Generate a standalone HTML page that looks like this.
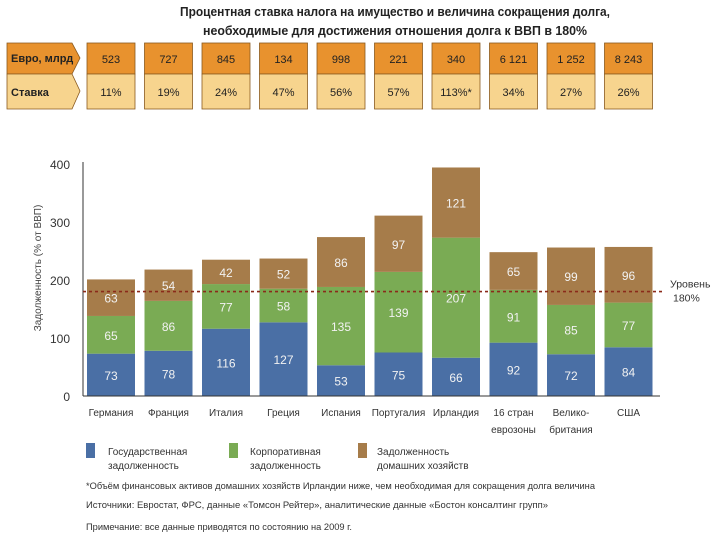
<!DOCTYPE html>
<html><head><meta charset="utf-8">
<style>
body{margin:0;background:#fff;width:720px;height:540px;overflow:hidden;font-family:"Liberation Sans","Noto Sans CJK SC",sans-serif;}
svg text{font-family:"Liberation Sans","Noto Sans CJK SC",sans-serif;}
</style></head>
<body>
<svg id="chart" width="720" height="540" viewBox="0 0 720 540" xmlns="http://www.w3.org/2000/svg">
<text x="180" y="16" font-size="13" font-weight="bold" fill="#222" textLength="430" lengthAdjust="spacingAndGlyphs">Процентная ставка налога на имущество и величина сокращения долга,</text>
<text x="203" y="35" font-size="13" font-weight="bold" fill="#222" textLength="384" lengthAdjust="spacingAndGlyphs">необходимые для достижения отношения долга к ВВП в 180%</text>
<g id="table"></g>
<g id="plot"></g>
<text transform="translate(41,268) rotate(-90)" text-anchor="middle" font-size="10" fill="#444">Задолженность (% от ВВП)</text>
<g>
<rect x="86" y="443" width="9" height="15" fill="#4a6fa5"/>
<text font-size="10" fill="#333"><tspan x="108" y="455">Государственная</tspan><tspan x="108" y="469">задолженность</tspan></text>
<rect x="229" y="443" width="9" height="15" fill="#7aab54"/>
<text font-size="10" fill="#333"><tspan x="250" y="455">Корпоративная</tspan><tspan x="250" y="469">задолженность</tspan></text>
<rect x="358" y="443" width="9" height="15" fill="#a67c4a"/>
<text font-size="10" fill="#333"><tspan x="377" y="455">Задолженность</tspan><tspan x="377" y="469">домашних хозяйств</tspan></text>
</g>
<text x="86" y="489" font-size="9.5" fill="#333" textLength="509" lengthAdjust="spacingAndGlyphs">*Объём финансовых активов домашних хозяйств Ирландии ниже, чем необходимая для сокращения долга величина</text>
<text x="86" y="508" font-size="9.5" fill="#333" textLength="462" lengthAdjust="spacingAndGlyphs">Источники: Евростат, ФРС, данные «Томсон Рейтер», аналитические данные «Бостон консалтинг групп»</text>
<text x="86" y="530" font-size="9.5" fill="#333" textLength="266" lengthAdjust="spacingAndGlyphs">Примечание: все данные приводятся по состоянию на 2009 г.</text>
</svg>
<script>
const categories=[["Германия"],["Франция"],["Италия"],["Греция"],["Испания"],["Португалия"],["Ирландия"],["16 стран","еврозоны"],["Велико-","британия"],["США"]];
const government=[73,78,116,127,53,75,66,92,72,84];
const corporate=[65,86,77,58,135,139,207,91,85,77];
const household=[63,54,42,52,86,97,121,65,99,96];
const euroBn=["523","727","845","134","998","221","340","6 121","1 252","8 243"];
const rates=["11%","19%","24%","47%","56%","57%","113%*","34%","27%","26%"];
const yTicks=[0,100,200,300,400];
const threshold=180;

const NS="http://www.w3.org/2000/svg";
function mk(tag,attrs,parent,txt){const e=document.createElementNS(NS,tag);for(const k in attrs)e.setAttribute(k,attrs[k]);if(txt!==undefined)e.textContent=txt;parent.appendChild(e);return e;}
const y0=396,yScale=232/400;
function yPos(v){return y0-v*yScale;}
function xPos(i){return 87+i*57.5;}
const bw=48;
const plot=document.getElementById('plot');
const table=document.getElementById('table');

let l1=mk('path',{d:'M7 43 H72 L80 58 L72 74 H7 Z',fill:'#e8922e',stroke:'#8a5a20','stroke-width':'0.8'},table);


let l2=mk('path',{d:'M7 74 H72 L80 91 L72 109 H7 Z',fill:'#f7d48e',stroke:'#8a5a20','stroke-width':'0.8'},table);


mk('text',{x:11,y:62,'font-size':'11','font-weight':'bold',fill:'#222'},table,'Евро, млрд');
mk('text',{x:11,y:96,'font-size':'11','font-weight':'bold',fill:'#222'},table,'Ставка');
for(let i=0;i<categories.length;i++){
  const x=xPos(i);
  let a=mk('rect',{x:x,y:43,width:bw,height:31,fill:'#e8922e',stroke:'#8a5a20','stroke-width':'0.8'},table);
  
  
  let b=mk('rect',{x:x,y:74,width:bw,height:35,fill:'#f7d48e',stroke:'#8a5a20','stroke-width':'0.8'},table);
  
  
  mk('text',{x:x+bw/2,y:63,'text-anchor':'middle','font-size':'11',fill:'#222'},table,euroBn[i]);
  mk('text',{x:x+bw/2,y:96,'text-anchor':'middle','font-size':'11',fill:'#222'},table,rates[i]);
}
yTicks.forEach(t=>{
  let tx=mk('text',{x:70,y:yPos(t)+5,'text-anchor':'end','font-size':'12',fill:'#333'},plot,String(t));
  
  
});
const series=[[government,'#4a6fa5','government'],[corporate,'#7aab54','corporate'],[household,'#a67c4a','household']];
for(let i=0;i<categories.length;i++){
  let base=0;const x=xPos(i);
  series.forEach(([vals,col,nm])=>{
    const v=vals[i];
    let r=mk('rect',{x:x,y:yPos(base+v),width:bw,height:v*yScale,fill:col},plot);
    
    
    let t=mk('text',{x:x+bw/2,y:yPos(base+v/2)+5,'text-anchor':'middle','font-size':'12',fill:'#f2f2f2'},plot,String(v));
    
    
    base+=v;
  });
  const lab=categories[i];
  lab.forEach((s,k)=>{
    let t=mk('text',{x:x+bw/2,y:416+k*17,'text-anchor':'middle','font-size':'10',fill:'#333'},plot,s);
    
    
  });
}
let ya=mk('line',{x1:83,y1:yPos(400)-2,x2:83,y2:y0,stroke:'#333','stroke-width':'1'},plot);


let xa=mk('line',{x1:83,y1:y0,x2:660,y2:y0,stroke:'#333','stroke-width':'1'},plot);


let th=mk('line',{x1:83,y1:yPos(threshold),x2:665,y2:yPos(threshold),stroke:'#8b2a1a','stroke-width':'1.6','stroke-dasharray':'3,3'},plot);


let tl=mk('text',{'font-size':'10.5',fill:'#333'},plot);


mk('tspan',{x:670,y:yPos(threshold)-4},tl,'Уровень');
mk('tspan',{x:673,y:yPos(threshold)+10},tl,'180%');
</script>
</body></html>
